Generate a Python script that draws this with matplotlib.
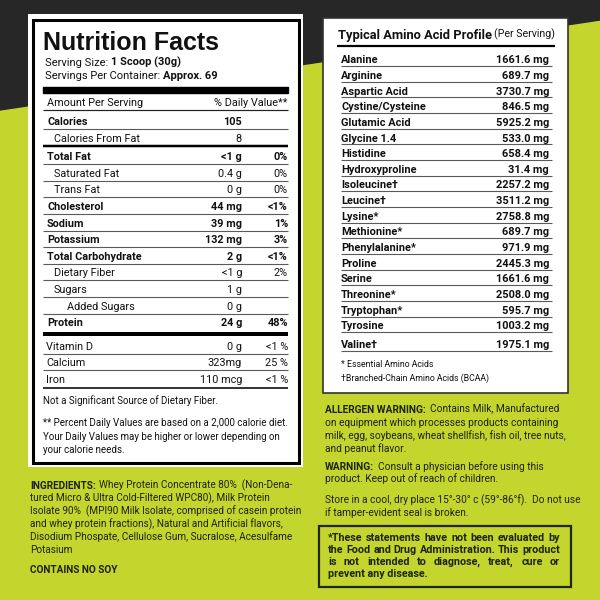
import matplotlib
matplotlib.use("Agg")
import matplotlib.pyplot as plt
from matplotlib.patches import Rectangle, Polygon

# ---- label content ----
serving_size = "1 Scoop (30g)"
servings_per_container = "Approx. 69"

nutrients = ["Calories", "Calories From Fat", "Total Fat", "Saturated Fat", "Trans Fat",
             "Cholesterol", "Sodium", "Potassium", "Total Carbohydrate", "Dietary Fiber",
             "Sugars", "Added Sugars", "Protein"]
amounts = ["105", "8", "<1 g", "0.4 g", "0 g", "44 mg", "39 mg", "132 mg",
           "2 g", "<1 g", "1 g", "0 g", "24 g"]
daily_values = ["", "", "0%", "0%", "0%", "<1%", "1%", "3%", "<1%", "2%", "", "", "48%"]

vitamins = ["Vitamin D", "Calcium", "Iron"]
vitamin_amounts = ["0 g", "323mg", "110 mcg"]
vitamin_dv = ["<1 %", "25 %", "<1 %"]

amino_acids = ["Alanine", "Arginine", "Aspartic Acid", "Cystine/Cysteine", "Glutamic Acid",
               "Glycine 1.4", "Histidine", "Hydroxyproline", "Isoleucine\u2020", "Leucine\u2020",
               "Lysine*", "Methionine*", "Phenylalanine*", "Proline", "Serine", "Threonine*",
               "Tryptophan*", "Tyrosine", "Valine\u2020"]
amino_mg = [1661.6, 689.7, 3730.7, 846.5, 5925.2, 533.0, 658.4, 31.4, 2257.2, 3511.2,
            2758.8, 689.7, 971.9, 2445.3, 1661.6, 2508.0, 595.7, 1003.2, 1975.1]

notes = ["Not a Significant Source of Dietary Fiber.",
         "** Percent Daily Values are based on a 2,000 calorie diet.",
         "Your Daily Values may be higher or lower depending on",
         "your calorie needs."]
ingredients = ["Whey Protein Concentrate 80%  (Non-Dena-",
               "tured Micro & Ultra Cold-Filtered WPC80), Milk Protein",
               "Isolate 90%  (MPI90 Milk Isolate, comprised of casein protein",
               "and whey protein fractions), Natural and Artificial flavors,",
               "Disodium Phospate, Cellulose Gum, Sucralose, Acesulfame",
               "Potasium"]
allergen = ["Contains Milk, Manufactured",
            "on equipment which processes products containing",
            "milk, egg, soybeans, wheat shellfish, fish oil, tree nuts,",
            "and peanut flavor."]
warning = ["Consult a physician before using this",
           "product. Keep out of reach of children."]
storage = ["Store in a cool, dry place 15\u00b0-30\u00b0 c (59\u00b0-86\u00b0f).  Do not use",
           "if tamper-evident seal is broken."]
disclaimer = ["*These statements have not been evaluated by",
              "the Food and Drug Administration. This product",
              "is not intended to diagnose, treat, cure or",
              "prevent any disease."]

# ---- styles ----
BODY = ["Roboto", "DejaVu Sans"]
TITLE = ["Liberation Sans", "DejaVu Sans"]
INK = "#111111"
LIME_INK = "#1c2410"
LIME = "#c4d52d"
DARK = "#272727"
bold_rows = {"Calories", "Total Fat", "Cholesterol", "Sodium", "Potassium",
             "Total Carbohydrate", "Protein"}
indent = {"Calories From Fat": 7, "Saturated Fat": 7, "Trans Fat": 7,
          "Dietary Fiber": 7, "Sugars": 7, "Added Sugars": 20}

fig = plt.figure(figsize=(6, 6), dpi=100)
ax = fig.add_axes([0, 0, 1, 1])
ax.set_xlim(0, 600)
ax.set_ylim(600, 0)
ax.axis("off")
renderer = fig.canvas.get_renderer()


def px(size):
    return size * 100 / 72.0


def put(x, y, s, size, weight="normal", ha="left", color=INK, family=BODY):
    # y is the vertical centre of capital letters
    return ax.text(x, y + 0.36 * px(size), s, fontsize=size, fontweight=weight,
                   ha=ha, va="baseline", color=color, family=family)


def width(t):
    return t.get_window_extent(renderer).width


def fit(s, weight, target):
    # font size that makes s span target pixels
    t = put(0, 0, s, 10, weight)
    w = width(t)
    t.remove()
    return 10 * target / w


def runs(x, y, parts, size, color=INK, gap=3.0):
    for s, w in parts:
        t = put(x, y, s, size, w, color=color)
        x += width(t) + gap


def justify(x0, x1, y, line, size, weight, color):
    words = line.split()
    ts = [put(0, y, w, size, weight, color=color) for w in words]
    ws = [width(t) for t in ts]
    g = (x1 - x0 - sum(ws)) / max(len(words) - 1, 1)
    x = x0
    for t, w in zip(ts, ws):
        t.set_x(x)
        x += w + g


def hline(x0, x1, y, lw, color="#5a5a5a"):
    ax.plot([x0, x1], [y, y], color=color, lw=lw * 0.72, solid_capstyle="butt")


# ---- background ----
ax.add_patch(Rectangle((0, 0), 600, 600, color=LIME, zorder=0))
ax.add_patch(Polygon([(0, 0), (600, 0), (600, 20), (0, 110)], color=DARK, zorder=0))

# ---- nutrition facts panel ----
ax.add_patch(Rectangle((28, 14), 275, 453, facecolor="white", edgecolor="none"))
ax.add_patch(Rectangle((32.5, 19.5), 266, 443, facecolor="none", edgecolor="black", lw=2.2))

L, R = 43, 288
VAL_X, DV_X = 242, 288
ROW = fit("Amount Per Serving", "normal", 96)
SERV = fit("Servings Per Container: Approx. 69", "normal", 172)
put(L, 41, "Nutrition Facts", 18, "bold", family=TITLE)
runs(45, 62, [("Serving Size:", "normal"), (serving_size, "bold")], SERV)
runs(45, 75, [("Servings Per Container:", "normal"), (servings_per_container, "bold")], SERV)
ax.add_patch(Rectangle((L, 87), R - L, 6, color="black"))
put(47, 102, "Amount Per Serving", ROW)
put(DV_X, 102, "% Daily Value**", ROW, ha="right")
hline(L, R, 110, 1.2, "#222222")

y = 121
for i, name in enumerate(nutrients):
    w = "bold" if name in bold_rows else "normal"
    put(47 + indent.get(name, 0), y, name, ROW, w)
    put(VAL_X, y, amounts[i], ROW, w, ha="right")
    if daily_values[i]:
        put(DV_X, y, daily_values[i], ROW, w, ha="right")
    if name == "Calories From Fat":
        hline(L, R, y + 8, 2.5, "black")
        y += 2
    elif name == "Protein":
        hline(L, R, y + 11.5, 4, "black")
        y += 7
    else:
        hline(L, R, y + 8, 1.1)
    y += 16.6

for i, name in enumerate(vitamins):
    put(46, y, name, ROW)
    put(VAL_X, y, vitamin_amounts[i], ROW, ha="right")
    put(DV_X, y, vitamin_dv[i], ROW, ha="right")
    if i == len(vitamins) - 1:
        hline(L, R, y + 9, 1.8, "#222222")
    else:
        hline(L, R, y + 8, 1.1)
    y += 16.6

NOTE = fit(notes[1], "normal", 244)
for s, ny in zip(notes, [401, 423, 437, 450]):
    put(L, ny, s, NOTE)

# ---- amino acid panel ----
ax.add_patch(Rectangle((323, 18), 245, 375, facecolor="white", edgecolor="#333333", lw=1.2))
AT = fit("Typical Amino Acid Profile", "bold", 155)
PS = fit("(Per Serving)", "normal", 61)
put(338, 34, "Typical Amino Acid Profile", AT, "bold")
put(555, 34, "(Per Serving)", PS, ha="right")
hline(337, 555, 46, 2.2, "black")
AL, AR = 341, 552
AS = fit("Cystine/Cysteine", "bold", 85)
y = 59.3
for i, name in enumerate(amino_acids):
    if i == len(amino_acids) - 1:
        y += 3
    put(AL, y, name, AS, "bold")
    put(549, y, f"{amino_mg[i]:.1f} mg", AS, "bold", ha="right")
    hline(AL, AR, y + 6.8, 1.1)
    y += 15.65
AF = fit("\u2020Branched-Chain Amino Acids (BCAA)", "normal", 149)
put(AL, 364, "* Essential Amino Acids", AF)
put(AL, 378, "\u2020Branched-Chain Amino Acids (BCAA)", AF)

# ---- text on the lime background ----
IS = fit(ingredients[2], "normal", 272)
for i, line in enumerate(ingredients):
    ly = 485 + i * 12.8
    if i == 0:
        runs(30, ly, [("INGREDIENTS:", "bold"), (line, "normal")], IS, LIME_INK)
    else:
        put(30, ly, line, IS, color=LIME_INK)
put(30, 569, "CONTAINS NO SOY", IS, "bold", color=LIME_INK)

WS = fit(allergen[2], "normal", 241)
for i, line in enumerate(allergen):
    ly = 409 + i * 13
    if i == 0:
        runs(325, ly, [("ALLERGEN WARNING:", "bold"), (line, "normal")], WS, LIME_INK, gap=4)
    else:
        put(325, ly, line, WS, color=LIME_INK)
for i, line in enumerate(warning):
    ly = 466 + i * 12.5
    if i == 0:
        runs(325, ly, [("WARNING:", "bold"), (line, "normal")], WS, LIME_INK, gap=4)
    else:
        put(325, ly, line, WS, color=LIME_INK)
for i, line in enumerate(storage):
    put(325, 500 + i * 12.5, line, WS, color=LIME_INK)

ax.add_patch(Rectangle((319, 526), 252, 61, facecolor="none", edgecolor="#1f2612", lw=1.6))
DS = fit(disclaimer[-1], "bold", 100)
for i, line in enumerate(disclaimer):
    ly = 537 + i * 12
    if i < len(disclaimer) - 1:
        justify(328, 560, ly, line, DS, "bold", LIME_INK)
    else:
        put(328, ly, line, DS, "bold", color=LIME_INK)

fig.savefig("out.png", dpi=100)
